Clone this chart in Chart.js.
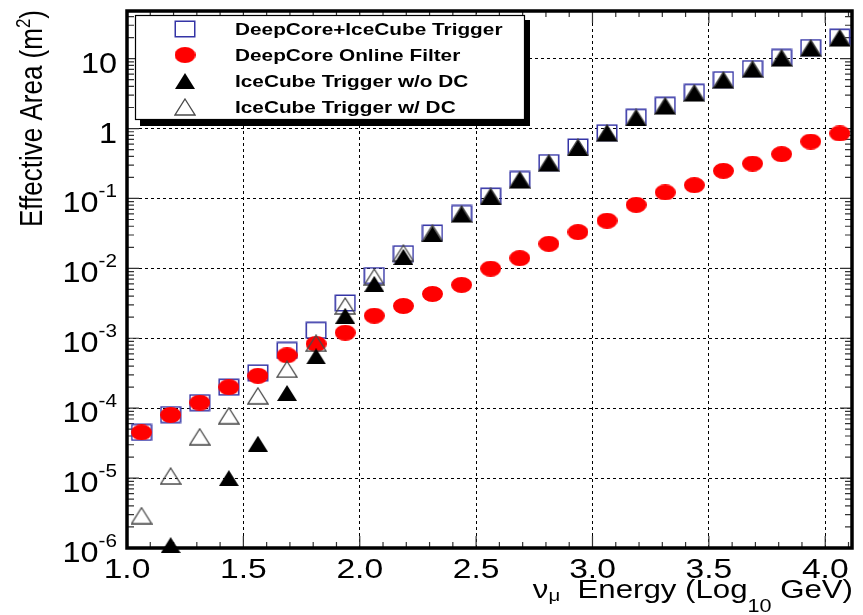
<!DOCTYPE html>
<html>
<head>
<meta charset="utf-8">
<title>Effective Area vs Energy</title>
<script src="https://cdn.jsdelivr.net/npm/chart.js@4.4.1/dist/chart.umd.min.js"></script>
<style>
  html, body { margin: 0; padding: 0; background: #fff; }
  #wrap { width: 863px; height: 615px; position: relative; }
</style>
</head>
<body>
<div id="wrap"><canvas id="effArea"></canvas></div>
<script>
// bin centres, log10(E / GeV)
const energies = [1.0625, 1.1875, 1.3125, 1.4375, 1.5625, 1.6875, 1.8125, 1.9375, 2.0625, 2.1875,
  2.3125, 2.4375, 2.5625, 2.6875, 2.8125, 2.9375, 3.0625, 3.1875, 3.3125, 3.4375,
  3.5625, 3.6875, 3.8125, 3.9375, 4.0625];

// effective areas in m^2 (null = no point)
const dcIcTrigger = [4.5e-5, 8.1e-5, 1.2e-4, 2.0e-4, 3.2e-4, 6.7e-4, 1.3e-3, 3.2e-3, 7.9e-3, 0.0162,
  0.032, 0.061, 0.108, 0.187, 0.326, 0.545, 0.87, 1.45, 2.15, 3.3,
  5.0, 7.2, 10.4, 14.4, 20.3];
const dcOnlineFilter = [4.5e-5, 8.0e-5, 1.2e-4, 2.0e-4, 2.9e-4, 5.7e-4, 8.3e-4, 1.2e-3, 2.1e-3, 2.9e-3,
  4.3e-3, 5.8e-3, 0.0099, 0.014, 0.0224, 0.033, 0.048, 0.081, 0.122, 0.155,
  0.248, 0.315, 0.43, 0.65, 0.85];
const icTriggerNoDC = [null, 1.1e-6, null, 1.0e-5, 3.1e-5, 1.65e-4, 5.5e-4, 2.1e-3, 6.0e-3, 0.0146,
  0.031, 0.059, 0.106, 0.185, 0.32, 0.53, 0.86, 1.42, 2.1, 3.2,
  4.9, 7.0, 10.2, 14.1, 19.8];
const icTriggerWithDC = [2.9e-6, 1.07e-5, 3.9e-5, 7.8e-5, 1.5e-4, 3.6e-4, 8.5e-4, 2.9e-3, 7.5e-3, 0.0165,
  0.032, 0.060, 0.107, 0.186, 0.325, 0.54, 0.87, 1.44, 2.13, 3.25,
  4.95, 7.1, 10.3, 14.3, 20.0];

const legendLabels = ['DeepCore+IceCube Trigger', 'DeepCore Online Filter', 'IceCube Trigger w/o DC', 'IceCube Trigger w/ DC'];

const xTicks = [1.0, 1.5, 2.0, 2.5, 3.0, 3.5, 4.0];
const xTickLabels = ['1.0', '1.5', '2.0', '2.5', '3.0', '3.5', '4.0'];
const xMinorTicks = [1.1, 1.2, 1.3, 1.4, 1.6, 1.7, 1.8, 1.9, 2.1, 2.2, 2.3, 2.4, 2.6, 2.7, 2.8, 2.9,
  3.1, 3.2, 3.3, 3.4, 3.6, 3.7, 3.8, 3.9, 4.1];
const yTicks = [1e-6, 1e-5, 1e-4, 1e-3, 1e-2, 1e-1, 1, 10];
const yTickBase = ['10', '10', '10', '10', '10', '10', '1', '10'];
const yTickSup = ['-6', '-5', '-4', '-3', '-2', '-1', '', ''];

const FONT = '"Liberation Sans", Arial, sans-serif';

// ROOT-style markers (the original figure is a bit wider than tall)
function marker(w, h, paint) {
  const c = document.createElement('canvas');
  c.width = w; c.height = h;
  paint(c.getContext('2d'), w, h);
  return c;
}
const squareMk = marker(22, 18, (c) => {
  c.strokeStyle = '#3434a6'; c.lineWidth = 1.5;
  c.strokeRect(1.25, 1.25, 19.5, 15.5);
});
const circleMk = marker(21, 16, (c) => {
  c.fillStyle = '#ff0000';
  c.beginPath(); c.ellipse(10.5, 8, 10.5, 8, 0, 0, Math.PI * 2); c.fill();
});
const triFullMk = marker(20, 16, (c) => {
  c.fillStyle = '#000';
  c.beginPath(); c.moveTo(10, 0); c.lineTo(20, 16); c.lineTo(0, 16); c.closePath(); c.fill();
});
const triOpenMk = marker(22, 18, (c) => {
  c.strokeStyle = '#4a4a4a'; c.lineWidth = 1.3;
  c.beginPath(); c.moveTo(11, 1); c.lineTo(21, 17); c.lineTo(1, 17); c.closePath(); c.stroke();
});
const legendMarkers = [squareMk, circleMk, triFullMk, triOpenMk];

const toPoints = arr => energies.map((x, i) => ({ x: x, y: arr[i] })).filter(p => p.y !== null);

function drawRuns(ctx, runs, x, y, sx, align) {
  let total = 0;
  runs.forEach(r => {
    ctx.font = (r.bold ? 'bold ' : '') + r.size + 'px ' + FONT;
    r.w = ctx.measureText(r.t).width * sx;
    total += r.w;
  });
  let cx = align === 'right' ? x - total : (align === 'center' ? x - total / 2 : x);
  runs.forEach(r => {
    ctx.font = (r.bold ? 'bold ' : '') + r.size + 'px ' + FONT;
    ctx.save();
    ctx.translate(cx, y + (r.dy || 0));
    ctx.scale(sx, 1);
    ctx.textAlign = 'left';
    ctx.textBaseline = 'alphabetic';
    ctx.fillText(r.t, 0, 0);
    ctx.restore();
    cx += r.w;
  });
  return total;
}

// frame, inward ticks, labels and legend box
const rootFrame = {
  id: 'rootFrame',
  beforeDatasetsDraw(chart) {
    const { ctx, chartArea: a, scales: { x, y } } = chart;
    ctx.save();
    ctx.strokeStyle = '#333';
    ctx.lineWidth = 1.2;
    const hTick = (py, len) => {
      ctx.beginPath();
      ctx.moveTo(a.left, py); ctx.lineTo(a.left + len, py);
      ctx.moveTo(a.right, py); ctx.lineTo(a.right - len, py);
      ctx.stroke();
    };
    const vTick = (px, len) => {
      ctx.beginPath();
      ctx.moveTo(px, a.bottom); ctx.lineTo(px, a.bottom - len);
      ctx.moveTo(px, a.top); ctx.lineTo(px, a.top + len);
      ctx.stroke();
    };
    yTicks.forEach(d => {
      hTick(y.getPixelForValue(d), 12);
      for (let m = 2; m <= 9; m++) {
        if (d * m <= y.max) hTick(y.getPixelForValue(d * m), 7);
      }
    });
    xTicks.forEach(v => vTick(x.getPixelForValue(v), 12));
    xMinorTicks.forEach(v => vTick(x.getPixelForValue(v), 6));

    ctx.strokeStyle = '#000';
    ctx.lineWidth = 3.5;
    ctx.strokeRect(a.left, a.top, a.right - a.left, a.bottom - a.top);

    // legend box with drop shadow
    ctx.fillStyle = '#000';
    ctx.fillRect(140, 20, 390, 106);
    ctx.fillStyle = '#fff';
    ctx.fillRect(135, 15, 390, 105);
    ctx.lineWidth = 1.2;
    ctx.strokeRect(135.5, 15.5, 389, 104);
    legendMarkers.forEach((mk, i) => {
      const cy = 29 + i * 26;
      ctx.drawImage(mk, 185 - mk.width / 2, cy - mk.height / 2);
    });
    ctx.fillStyle = '#000';
    legendLabels.forEach((t, i) => {
      drawRuns(ctx, [{ t: t, size: 16.5, bold: true }], 235, 35 + i * 26, 1.26, 'left');
    });
    ctx.restore();
  },
  afterDraw(chart) {
    const { ctx, scales: { x, y } } = chart;
    ctx.save();
    ctx.fillStyle = '#000';
    // y tick labels 10^n
    yTicks.forEach((v, i) => {
      const py = y.getPixelForValue(v);
      if (yTickSup[i]) {
        const w = drawRuns(ctx, [{ t: yTickSup[i], size: 18 }], 117, py - 1, 1.15, 'right');
        drawRuns(ctx, [{ t: yTickBase[i], size: 30 }], 117 - w, py + 13.7, 1.08, 'right');
      } else {
        drawRuns(ctx, [{ t: yTickBase[i], size: 30 }], 117, py + 14.4, 1.08, 'right');
      }
    });
    // x tick labels
    xTicks.forEach((v, i) => {
      drawRuns(ctx, [{ t: xTickLabels[i], size: 28 }], x.getPixelForValue(v), 578, 1.2, 'center');
    });
    // x title
    drawRuns(ctx, [
      { t: '\u03bd', size: 26 },
      { t: '\u03bc', size: 17, dy: 3 },
      { t: '  Energy (Log', size: 26 },
      { t: '10', size: 18, dy: 14 },
      { t: ' GeV)', size: 26 }
    ], 853, 598, 1.2, 'right');
    // y title, rotated
    ctx.translate(42, 10);
    ctx.scale(1.22, 1);
    ctx.rotate(-Math.PI / 2);
    drawRuns(ctx, [
      { t: 'Effective Area (m', size: 26 },
      { t: '2', size: 17, dy: -10 },
      { t: ')', size: 26 }
    ], 0, 0, 1, 'right');
    ctx.restore();
  }
};

const gridCommon = { color: '#000', lineWidth: 1, drawTicks: false };

new Chart(document.getElementById('effArea'), {
  type: 'scatter',
  data: {
    datasets: [
      { label: legendLabels[0], data: toPoints(dcIcTrigger), pointStyle: squareMk, pointRadius: 10, order: 4, clip: false },
      { label: legendLabels[1], data: toPoints(dcOnlineFilter), pointStyle: circleMk, pointRadius: 10, order: 3, clip: false },
      { label: legendLabels[2], data: toPoints(icTriggerNoDC), pointStyle: triFullMk, pointRadius: 10, order: 1, clip: false },
      { label: legendLabels[3], data: toPoints(icTriggerWithDC), pointStyle: triOpenMk, pointRadius: 10, order: 2, clip: false }
    ]
  },
  options: {
    responsive: true,
    maintainAspectRatio: false,
    animation: false,
    layout: { padding: { left: 5, right: 5, top: 9, bottom: 5 } },
    plugins: {
      legend: { display: false },
      tooltip: { enabled: false }
    },
    scales: {
      x: {
        type: 'linear',
        min: 1.0,
        max: 4.115,
        afterBuildTicks: s => { s.ticks = xTicks.map(v => ({ value: v })); },
        afterFit: s => { s.height = 62; },
        ticks: { display: false },
        grid: gridCommon,
        border: { display: false, dash: [3, 3] }
      },
      y: {
        type: 'logarithmic',
        min: 1e-6,
        max: 48,
        afterBuildTicks: s => { s.ticks = yTicks.map(v => ({ value: v })); },
        afterFit: s => { s.width = 122; },
        ticks: { display: false },
        grid: gridCommon,
        border: { display: false, dash: [3, 3] }
      }
    }
  },
  plugins: [rootFrame]
});
</script>
</body>
</html>
